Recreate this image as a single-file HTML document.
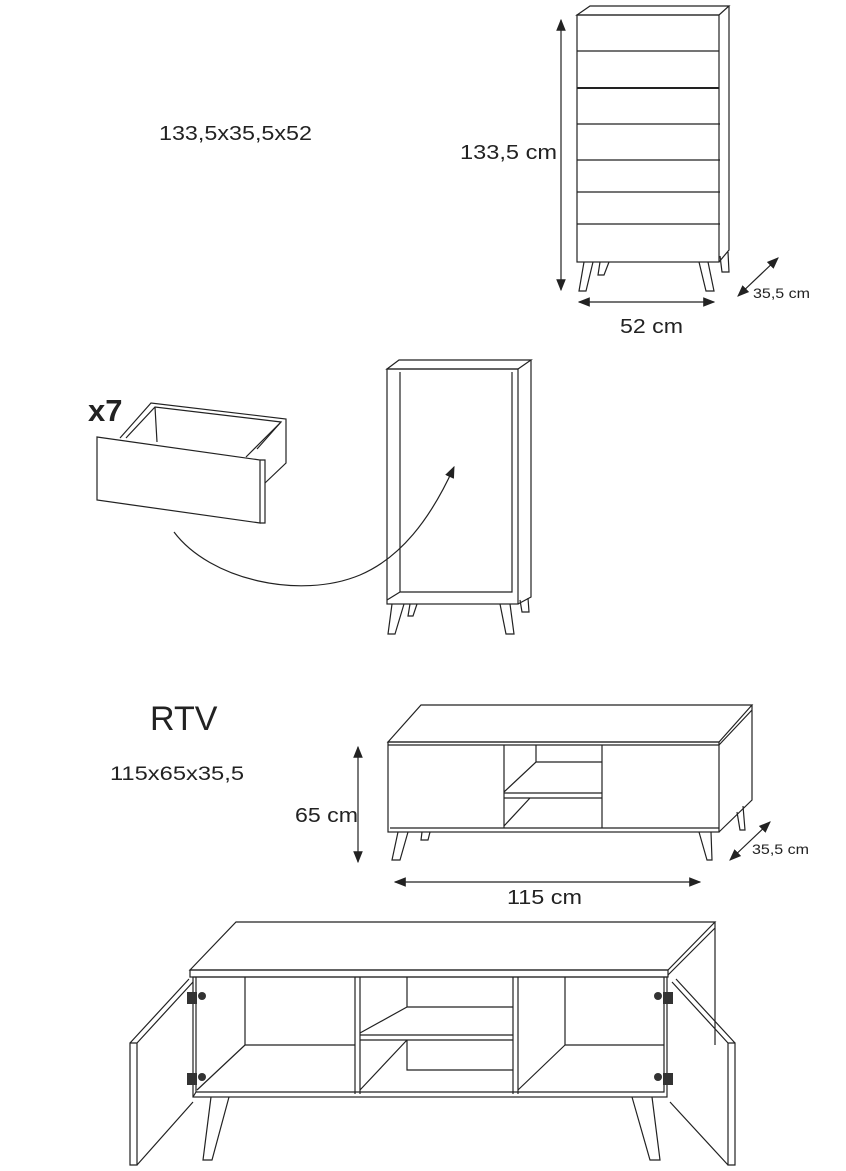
<!DOCTYPE html>
<html><head><meta charset="utf-8"><style>
html,body{margin:0;padding:0;background:#fff;}
svg{display:block}
text{font-family:"Liberation Sans",sans-serif;fill:#222}
</style></head><body>
<svg width="846" height="1171" viewBox="0 0 846 1171" xmlns="http://www.w3.org/2000/svg">
<defs>
<marker id="ah" viewBox="0 0 10 10" refX="9" refY="5" markerWidth="10" markerHeight="10" orient="auto-start-reverse"><path d="M0,1 L10,5 L0,9 z" fill="#222"/></marker>
</defs>
<g fill="none" stroke="#222" stroke-width="1.2">
<path d="M577,15 L590,6 L729,6 L719,15 Z"/>
<rect x="577" y="15" width="142" height="247"/>
<path d="M729,6 L729,250 L719,262"/>
<path d="M577,51 H719 M577,124 H720 M577,160 H720 M577,192 H720 M577,224 H720"/>
<path d="M577,88 H719" stroke-width="2"/>
<path d="M584,262 L579,291 L586,291 L593,262"/>
<path d="M600,262 L598,275 L604,275 L609,262"/>
<path d="M699,262 L706,291 L714,291 L708,262"/>
<path d="M720,256 L722,272 L729,272 L728,252"/>
<line x1="561" y1="20" x2="561" y2="290" marker-start="url(#ah)" marker-end="url(#ah)"/>
<line x1="579" y1="302" x2="714" y2="302" marker-start="url(#ah)" marker-end="url(#ah)"/>
<line x1="738" y1="296" x2="778" y2="258" marker-start="url(#ah)" marker-end="url(#ah)"/>
<path d="M97,437 L260,460 L260,523 L97,500 Z"/>
<path d="M260,460 L265,460 L265,523 L260,523"/>
<path d="M120,438 L151,403 L286,419 L286,463 L265,483"/>
<path d="M126,438 L155,407 L281,422 L257,449"/>
<path d="M155,407 L157,442 M281,422 L246,457"/>
<path d="M174,532 C210,580 300,600 360,575 C400,558 430,520 454,467" marker-end="url(#ah)"/>
<path d="M387,369 L399,360 L531,360 L518,369 Z"/>
<rect x="387" y="369" width="131" height="235"/>
<path d="M531,360 L531,597 L518,604"/>
<path d="M400,372 V592 H512 V372 M400,592 L387,600"/>
<path d="M392,604 L388,634 L395,634 L404,604 M410,604 L408,616 L413,616 L417,604"/>
<path d="M500,604 L506,634 L514,634 L510,604 M520,600 L522,612 L529,612 L528,598"/>
<path d="M388,742 L421,705 L752,705 L719,742 Z"/>
<rect x="388" y="742" width="331" height="90"/>
<path d="M388,745 H719 M390,828 H719"/>
<path d="M752,705 V800 L719,832 M752,710 L719,745"/>
<path d="M504,745 V828 M602,745 V828 M536,745 V762 H602 M536,762 L504,792 M504,793 H602 M504,798 H602 M530,798 L504,826"/>
<path d="M398,832 L392,860 L400,860 L408,832 M422,832 L421,840 L428,840 L430,832"/>
<path d="M699,832 L707,860 L712,860 L711,832 M737,812 L740,830 L745,830 L743,806"/>
<line x1="358" y1="747" x2="358" y2="862" marker-start="url(#ah)" marker-end="url(#ah)"/>
<line x1="395" y1="882" x2="700" y2="882" marker-start="url(#ah)" marker-end="url(#ah)"/>
<line x1="730" y1="860" x2="770" y2="822" marker-start="url(#ah)" marker-end="url(#ah)"/>
<path d="M190,970 L236,922 L715,922 L668,970 Z"/>
<rect x="190" y="970" width="478" height="7"/>
<path d="M715,922 V1045 M715,928 L668,975"/>
<rect x="193" y="977" width="474" height="120"/>
<path d="M196,977 V1092 H664 V977 M196,1092 L193,1097"/>
<path d="M355,977 V1094 M360,977 V1094 M513,977 V1094 M518,977 V1094"/>
<path d="M245,977 V1045 H355 M245,1045 L197,1090"/>
<path d="M407,977 V1007 H513 M407,1007 L360,1033 M360,1035 H513 M360,1040 H513 M407,1040 V1070 H513 M407,1040 L360,1090"/>
<path d="M565,977 V1045 H664 M565,1045 L518,1090"/>
<path d="M130,1043 L137,1043 L137,1165 L130,1165 Z M137,1043 L193,982 M130,1043 L189,979 M137,1165 L193,1102"/>
<path d="M728,1043 L735,1043 L735,1165 L728,1165 Z M728,1043 L672,982 M735,1043 L676,979 M728,1165 L670,1102"/>
<path d="M211,1097 L203,1160 L212,1160 L229,1097"/>
<path d="M632,1097 L650,1160 L660,1160 L652,1097"/>
</g>
<g fill="#333">
<rect x="187" y="992" width="10" height="12"/><circle cx="202" cy="996" r="4"/>
<rect x="187" y="1073" width="10" height="12"/><circle cx="202" cy="1077" r="4"/>
<rect x="663" y="992" width="10" height="12"/><circle cx="658" cy="996" r="4"/>
<rect x="663" y="1073" width="10" height="12"/><circle cx="658" cy="1077" r="4"/>
</g>
<text x="159" y="140" font-size="20" textLength="153" lengthAdjust="spacingAndGlyphs">133,5x35,5x52</text>
<text x="460" y="159" font-size="20" textLength="97" lengthAdjust="spacingAndGlyphs">133,5 cm</text>
<text x="620" y="333" font-size="20" textLength="63" lengthAdjust="spacingAndGlyphs">52 cm</text>
<text x="753" y="298" font-size="14" textLength="57" lengthAdjust="spacingAndGlyphs">35,5 cm</text>
<text x="88" y="421" font-size="31" font-weight="bold">x7</text>
<text x="150" y="730" font-size="34">RTV</text>
<text x="110" y="780" font-size="19" textLength="134" lengthAdjust="spacingAndGlyphs">115x65x35,5</text>
<text x="295" y="822" font-size="20" textLength="63" lengthAdjust="spacingAndGlyphs">65 cm</text>
<text x="507" y="904" font-size="20" textLength="75" lengthAdjust="spacingAndGlyphs">115 cm</text>
<text x="752" y="854" font-size="14" textLength="57" lengthAdjust="spacingAndGlyphs">35,5 cm</text>
</svg>
</body></html>
